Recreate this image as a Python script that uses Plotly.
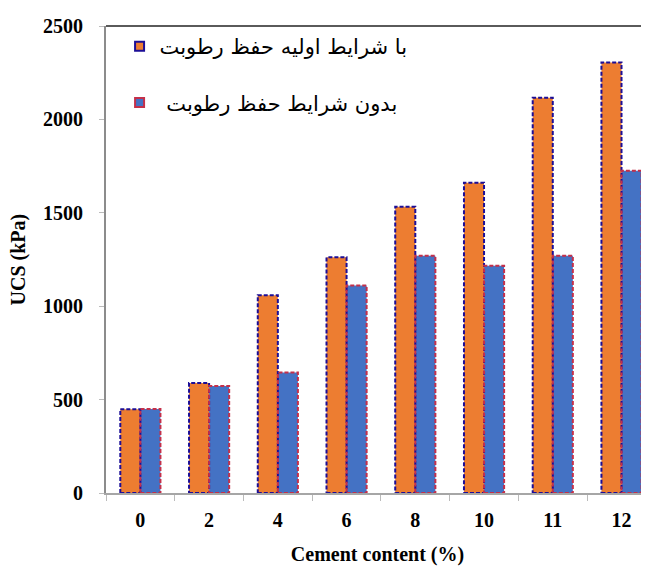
import plotly.graph_objects as go

categories = ["0", "2", "4", "6", "8", "10", "11", "12"]
with_curing = [449, 589, 1059, 1262, 1532, 1661, 2116, 2305]
without_curing = [450, 573, 645, 1111, 1270, 1216, 1270, 1725]
legend_names = ["با شرایط اولیه حفظ رطوبت", " بدون شرایط حفظ رطوبت"]
y_ticks = [0, 500, 1000, 1500, 2000, 2500]

ORANGE = "#ED7D31"
BLUE = "#4472C4"
NAVY = "#1C0E96"
CRIMSON = "#C4304A"
BAR_W = 0.292

fig = go.Figure()
fig.add_trace(go.Bar(x=categories, y=with_curing, width=BAR_W, offset=-BAR_W,
                     marker=dict(color=ORANGE, line=dict(width=0)), showlegend=False))
fig.add_trace(go.Bar(x=categories, y=without_curing, width=BAR_W, offset=0,
                     marker=dict(color=BLUE, line=dict(width=0)), showlegend=False))

# legend entries
for name, fill, edge, grp in [(legend_names[0], ORANGE, NAVY, "a"), (legend_names[1], BLUE, CRIMSON, "b")]:
    fig.add_trace(go.Scatter(x=[None], y=[None], mode="markers", name=name, legendgroup=grp,
                             marker=dict(symbol="square", size=9, color=fill,
                                         line=dict(color=edge, width=2))))

# dashed outlines of bars
shapes = []
for i, (a, b) in enumerate(zip(with_curing, without_curing)):
    shapes.append(dict(type="rect", xref="x", yref="y", x0=i - BAR_W, x1=i, y0=0, y1=a,
                       line=dict(color=NAVY, width=2, dash="4px,2px"), layer="above"))
    shapes.append(dict(type="rect", xref="x", yref="y", x0=i, x1=i + BAR_W, y0=0, y1=b,
                       line=dict(color=CRIMSON, width=2, dash="4px,2px"), layer="above"))
# top frame line
shapes.append(dict(type="line", xref="paper", yref="paper", x0=0, x1=1, y0=1, y1=1,
                   line=dict(color="#5a5a5a", width=2)))

serif = "Liberation Serif, Times New Roman, serif"
fig.update_layout(
    width=649, height=568,
    margin=dict(l=98, r=8, t=18, b=83),
    paper_bgcolor="white", plot_bgcolor="white",
    shapes=shapes,
    bargap=0.416,
    legend=dict(x=0.025, y=1.0, xanchor="left", yanchor="top",
                font=dict(family="DejaVu Sans", size=21, color="black"),
                bgcolor="rgba(0,0,0,0)", tracegroupgap=26),
    annotations=[dict(text="UCS (kPa)", xref="paper", yref="paper", x=0, y=0.5,
                      xanchor="center", yanchor="middle", xshift=-88, textangle=-90,
                      showarrow=False,
                      font=dict(family=serif, size=20, color="black", weight="bold"))],
    xaxis=dict(type="category", range=[-0.5, 7.40], showgrid=False,
               showline=True, linecolor="#a6a6a6", linewidth=1.5,
               ticks="outside", tickson="boundaries", ticklen=6, tickcolor="#bbbbbb",
               ticklabelstandoff=8,
               tickfont=dict(family=serif, size=20, color="black", weight="bold"),
               title=dict(text="Cement content (%)", standoff=17,
                          font=dict(family=serif, size=20, color="black", weight="bold"))),
    yaxis=dict(range=[0, 2500], tickvals=y_ticks, showgrid=False, zeroline=False,
               showline=True, linecolor="#8c8c8c", linewidth=2,
               ticks="outside", ticklen=5, tickcolor="#bbbbbb",
               ticklabelstandoff=12,
               tickfont=dict(family=serif, size=20, color="black", weight="bold")),
)

fig.write_html("out.html")
